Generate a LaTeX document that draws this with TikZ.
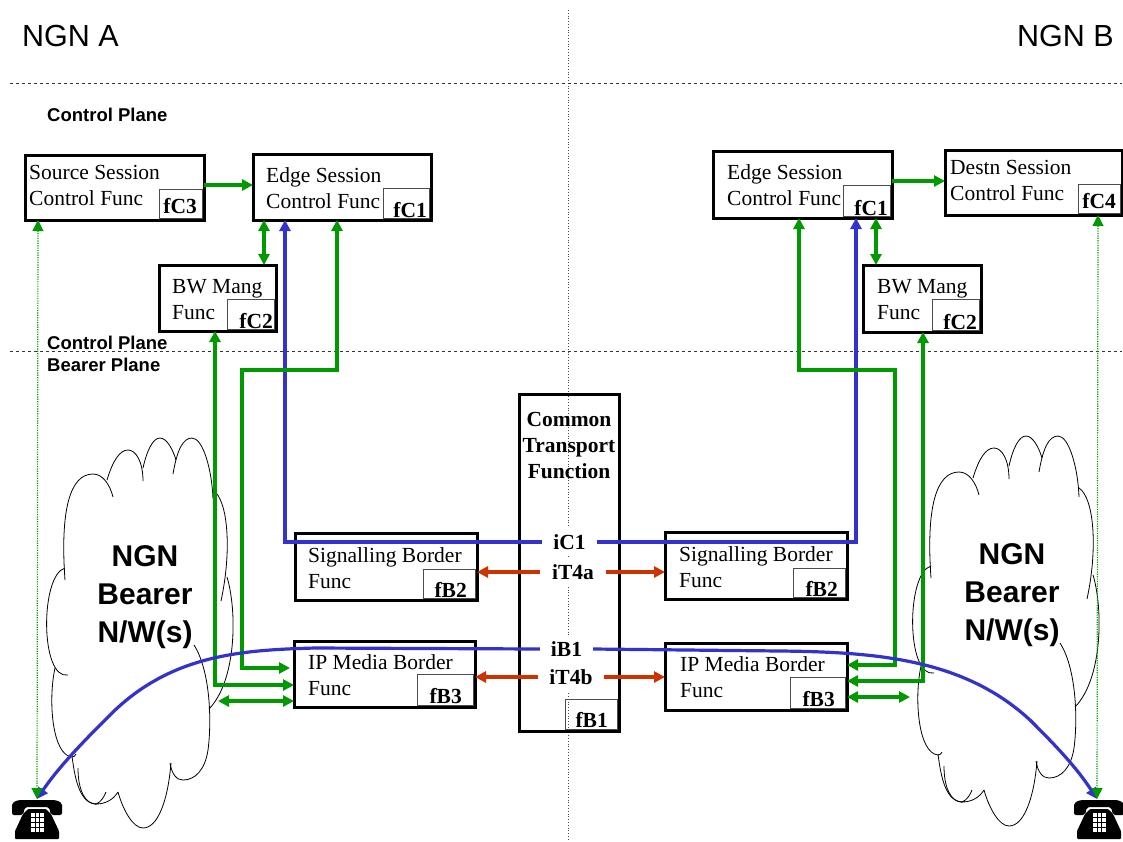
\documentclass[tikz,border=0pt]{standalone}
\usepackage{fontspec}
\setmainfont{Liberation Serif}
\newfontfamily\arialfont{Liberation Sans}
\usepackage{tikz}
\usetikzlibrary{arrows.meta,calc,positioning}
\definecolor{linkG}{RGB}{0,153,0}
\definecolor{linkB}{RGB}{51,51,204}
\definecolor{linkR}{RGB}{204,51,0}
\tikzset{
  funcbox/.style={draw=black,line width=3pt,inner sep=0pt,outer sep=0pt},
  tagbox/.style={draw=black!70,line width=1pt,inner sep=0pt,outer sep=0pt},
  boxtext/.style={anchor=west,align=left,inner sep=0pt,font=\fontsize{21.5}{26}\selectfont},
  tagtext/.style={anchor=base east,inner sep=0pt,font=\fontsize{21.5}{26}\selectfont\bfseries},
  iflabel/.style={inner sep=0pt,minimum height=28pt,fill=white,font=\fontsize{21.5}{26}\selectfont\bfseries},
  planetext/.style={anchor=west,inner sep=0pt,font=\arialfont\fontsize{18.5}{22}\selectfont\bfseries},
  ngntext/.style={inner sep=0pt,font=\arialfont\fontsize{30.5}{36}\selectfont},
  cloudtext/.style={align=center,inner sep=0pt,font=\arialfont\fontsize{30}{38}\selectfont\bfseries},
  planeline/.style={dashed,black!80,line width=0.8pt},
  linkg/.style={linkG,line width=3.2pt},
  linkb/.style={linkB,line width=3.2pt},
  linkr/.style={linkR,line width=3.2pt},
  linkd/.style={linkG,line width=1.2pt,dash pattern=on 1.2pt off 1.2pt},
}
% name, x1, y1, x2, y2, tag x, tag y
\newcommand{\funcnode}[7]{%
  \node[funcbox,minimum width={(#4-#2)*1pt},minimum height={(#5-#3)*1pt}] (#1) at ({(#2+#4)/2},{(#3+#5)/2}) {};
  \node[tagbox,minimum width={(#4-1.5-#6)*1pt},minimum height={(#5-1.5-#7)*1pt}] (#1tag) at ({(#4-1.5+#6)/2},{(#5-1.5+#7)/2}) {};}
% cloud outline, shifted
\newcommand{\bearercloud}[2]{%
  \begin{scope}[shift={(#1,#2)},line width=0.8pt]
  \draw (65,580) .. controls (60,510) and (70,474) .. (93,474) .. controls (103,474) and (110,485) .. (113,497);
  \draw (107,480) .. controls (113,460) and (120,450) .. (128,450) .. controls (136,450) and (143,462) .. (143,481);
  \draw (143,468) .. controls (147,450) and (153,438) .. (160,438) .. controls (167,438) and (173,450) .. (176,460);
  \draw (173,474) .. controls (177,450) and (183,438) .. (192,438) .. controls (203,438) and (212,470) .. (213,499);
  \draw (213,490) .. controls (228,500) and (232,550) .. (221,601);
  \draw (227,577) .. controls (237,610) and (237,680) .. (209,709);
  \draw (194,645) .. controls (210,670) and (212,720) .. (208,750) .. controls (205,770) and (195,780) .. (183,780) .. controls (177,780) and (172,775) .. (170,763);
  \draw (171,763) .. controls (168,800) and (158,828) .. (143,828) .. controls (133,828) and (123,810) .. (118,792);
  \draw (118,792) .. controls (113,800) and (105,804) .. (96,804) .. controls (101,802) and (104,797) .. (106,792);
  \draw (78,768) .. controls (78,790) and (85,804) .. (96,804);
  \draw (72,756) .. controls (75,780) and (80,804) .. (97,804);
  \draw (55,668) .. controls (48,700) and (52,755) .. (72,757) .. controls (74,757) and (75,756) .. (76,754);
  \draw (65,568) .. controls (40,575) and (40,680) .. (68,675);
  \end{scope}}
\newcommand{\phoneicon}[2]{%
  \begin{scope}[shift={(#1,#2)}]
  \fill[black,rounded corners=2pt] (0,15) -- (0,3) -- (6,0) -- (44,0) -- (50,3) -- (50,15) -- (39,15) -- (37,7) -- (13,7) -- (11,15) -- cycle;
  \fill[black,rounded corners=1pt] (16,9) -- (34,9) -- (39,14) -- (47,31) -- (47,39) -- (3,39) -- (3,31) -- (11,14) -- cycle;
  \foreach \row in {0,...,3}{\foreach \col in {0,1,2}{
    \fill[white] ({19+\col*4.6},{13+\row*4.9}) rectangle +(3.6,3.9);}}
  \end{scope}}

\begin{document}
\begin{tikzpicture}[x=1pt,y=-1pt,>={Triangle[length=11pt,width=11pt]}]
\useasboundingbox (0,0) rectangle (1123,841);
\fill[white] (0,0) rectangle (1123,841);
% planes
\draw[black!70,line width=0.8pt,dotted] (568,10)--(568,841);
\draw[planeline] (10,83)--(1122,83);
\draw[planeline] (10,351)--(1122,351);
\node[ngntext,anchor=west] (ngnA) at (22,36) {NGN A};
\node[ngntext,anchor=east] (ngnB) at (1114,36) {NGN B};
\node[planetext] (planeC1) at (47,115) {Control Plane};
\node[planetext] (planeC2) at (47,343) {Control Plane};
\node[planetext] (planeB) at (47,365) {Bearer Plane};
% clouds
\bearercloud{0}{0}
\bearercloud{866}{-2}
\node[cloudtext] (cloudA) at (145,597) {NGN\\Bearer\\N/W(s)};
\node[cloudtext] (cloudB) at (1012,595) {NGN\\Bearer\\N/W(s)};
% phones
\phoneicon{12}{800}
\phoneicon{1074}{800}
\coordinate (phoneA) at (37,799);
\coordinate (phoneB) at (1097,799);
\coordinate (curveA1) at (110,715);
\coordinate (curveB1) at (1030,720);
% boxes
\funcnode{srcS}{25}{155}{204}{220}{159}{189}
\funcnode{edgeA}{253}{154}{431}{220}{383}{188}
\funcnode{bwA}{159}{265}{276}{331}{227}{299}
\funcnode{edgeB}{713}{151}{892}{218}{843}{185}
\funcnode{dstS}{945}{150}{1122}{215}{1078}{184}
\funcnode{bwB}{863}{265}{981}{332}{932}{299}
\funcnode{sigA}{295}{533}{477}{600}{423}{569}
\funcnode{ipA}{294}{641}{475}{707}{417}{674}
\funcnode{sigB}{665}{532}{847}{599}{793}{568}
\funcnode{ipB}{665}{643}{847}{710}{790}{677}
\funcnode{ctf}{519}{394}{619}{731}{565}{699}
\node[tagtext] (srcSlab) at (197,213) {fC3};
\node[tagtext] (edgeAlab) at (427,217) {fC1};
\node[tagtext] (bwAlab) at (273,328) {fC2};
\node[tagtext] (edgeBlab) at (888,215) {fC1};
\node[tagtext] (dstSlab) at (1116,208) {fC4};
\node[tagtext] (bwBlab) at (977,329) {fC2};
\node[tagtext] (sigAlab) at (467,597) {fB2};
\node[tagtext] (ipAlab) at (462,703) {fB3};
\node[tagtext] (sigBlab) at (838,596) {fB2};
\node[tagtext] (ipBlab) at (835,706) {fB3};
\node[tagtext] (ctflab) at (608,727) {fB1};
\node[boxtext] (srcStext) at (29,185) {Source Session\\Control Func};
\node[boxtext] (edgeAtext) at (266,188) {Edge Session\\Control Func};
\node[boxtext] (bwAtext) at (172,300) {BW Mang\\Func};
\node[boxtext] (edgeBtext) at (727,185) {Edge Session\\Control Func};
\node[boxtext] (dstStext) at (950,180) {Destn Session\\Control Func};
\node[boxtext] (bwBtext) at (877,300) {BW Mang\\Func};
\node[boxtext] (sigAtext) at (308,568) {Signalling Border\\Func};
\node[boxtext] (ipAtext) at (308,675) {IP Media Border\\Func};
\node[boxtext] (sigBtext) at (679,567) {Signalling Border\\Func};
\node[boxtext] (ipBtext) at (680,677) {IP Media Border\\Func};
\node[align=center,inner sep=0pt,font=\fontsize{21.5}{26}\selectfont\bfseries] (ctftext) at (569,446) {Common\\Transport\\Function};
% interface labels
\node[iflabel,minimum width=55pt] (iCa) at (569.5,542) {iC1};
\node[iflabel,minimum width=65pt] (iTa) at (573,572) {iT4a};
\node[iflabel,minimum width=53pt] (iBa) at (566.5,649) {iB1};
\node[iflabel,minimum width=66pt] (iTb) at (571,677) {iT4b};
% control links
\draw[linkg,->] (srcS.east |- 0,185)--(edgeA.west |- 0,185);
\draw[linkg,<->] (edgeA.south -| 264,0)--(bwA.north -| 264,0);
\draw[linkg,->] (edgeB.east |- 0,181)--(dstS.west |- 0,181);
\draw[linkg,<->] (edgeB.south -| 876,0)--(bwB.north -| 876,0);
% bearer to control, side A
\draw[linkb,->] (iCa.west) -| (edgeA.south -| 285,0);
\draw[linkg,<->] ([xshift=-4pt]ipA.west |- 0,668) -| (242,370) -| (edgeA.south -| 337,0);
\draw[linkg,<->] (ipA.west |- 0,685) -| (bwA.south -| 215,0);
\coordinate (ipAfree) at (218,701);
\draw[linkg,<->] (ipA.west |- 0,701)--(ipAfree);
% bearer to control, side B
\draw[linkb,->] (iCa.east) -| (edgeB.south -| 856,0);
\draw[linkg,<->] (ipB.east |- 0,665) -| (895,370) -| (edgeB.south -| 799,0);
\draw[linkg,<->] (ipB.east |- 0,681) -| (bwB.south -| 923,0);
\coordinate (ipBfree) at (910,697);
\draw[linkg,<->] (ipB.east |- 0,697)--(ipBfree);
% transport links
\draw[linkr,->] (iTa.west)--(sigA.east |- iTa.west);
\draw[linkr,->] (iTa.east)--(sigB.west |- iTa.east);
\draw[linkr,->] (iTb.west)--(ipA.east |- iTb.west);
\draw[linkr,->] (iTb.east)--(ipB.west |- iTb.east);
% media path
\draw[linkb,->] (iBa.west)--(315,648) .. controls (240,650) and (170,655) .. (curveA1) .. controls (88,737) and (60,765) .. (phoneA);
\draw[linkb,->] (iBa.east)--(780,651) .. controls (880,652) and (965,660) .. (curveB1) .. controls (1050,740) and (1075,765) .. (phoneB);
% signalling to phones
\draw[linkd,<->] (srcS.south -| 38,0)--(phoneA);
\draw[linkd,<->] (dstS.south -| 1098,0)--(phoneB);
\end{tikzpicture}
\end{document}
